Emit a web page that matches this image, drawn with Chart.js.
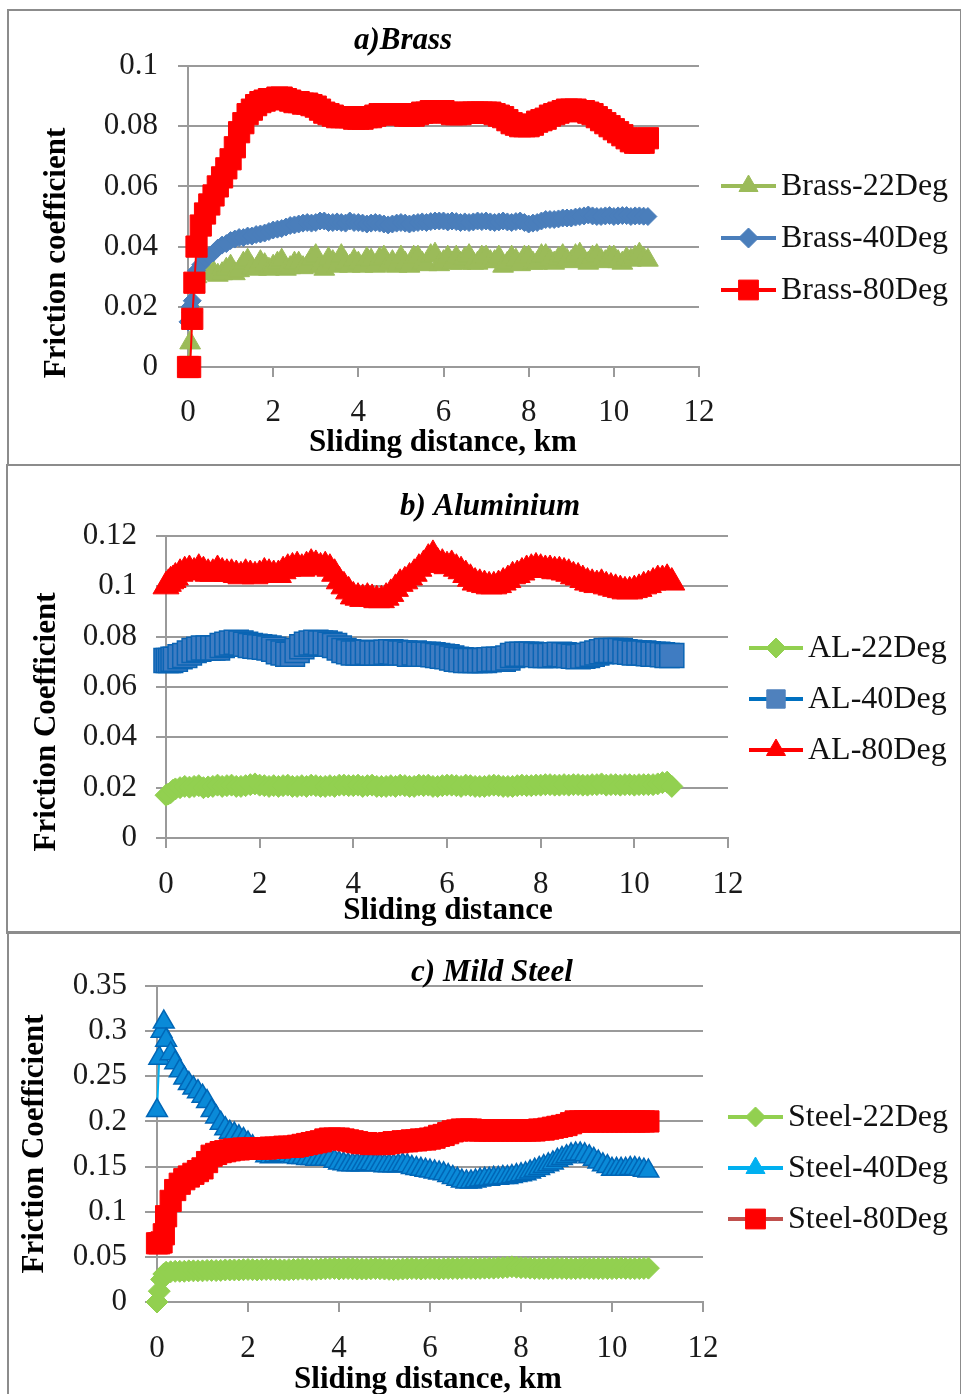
<!DOCTYPE html>
<html>
<head>
<meta charset="utf-8">
<script src="https://cdn.jsdelivr.net/npm/chart.js@4.4.0/dist/chart.umd.min.js"></script>
<style>
  html, body { margin: 0; padding: 0; background: #fff; }
  body { width: 961px; height: 1394px; position: relative; overflow: hidden; }
  .box { position: absolute; border: 2px solid #8c8c8c; box-sizing: border-box; }
  canvas { position: absolute; }
</style>
</head>
<body>
<div class="box" style="left:7px;top:9px;width:955px;height:457px"></div>
<div class="box" style="left:6px;top:464px;width:956px;height:470px"></div>
<div class="box" style="left:7px;top:931px;width:955px;height:470px"></div>
<canvas id="brass" width="948" height="452" style="left:10px;top:11px"></canvas>
<canvas id="alu" width="949" height="463" style="left:9px;top:467px"></canvas>
<canvas id="steel" width="948" height="460" style="left:10px;top:934px"></canvas>
<script>
// sliding distance, km (shared by all series)
const distance = [0, 0.05, 0.1, 0.15, 0.2, 0.3,
  0.4, 0.5, 0.6, 0.7, 0.8, 0.9, 1.0, 1.1, 1.2, 1.3,
  1.4, 1.5, 1.6, 1.7, 1.8, 1.9, 2.0, 2.1, 2.2, 2.3,
  2.4, 2.5, 2.6, 2.7, 2.8, 2.9, 3.0, 3.1, 3.2, 3.3,
  3.4, 3.5, 3.6, 3.7, 3.8, 3.9, 4.0, 4.1, 4.2, 4.3,
  4.4, 4.5, 4.6, 4.7, 4.8, 4.9, 5.0, 5.1, 5.2, 5.3,
  5.4, 5.5, 5.6, 5.7, 5.8, 5.9, 6.0, 6.1, 6.2, 6.3,
  6.4, 6.5, 6.6, 6.7, 6.8, 6.9, 7.0, 7.1, 7.2, 7.3,
  7.4, 7.5, 7.6, 7.7, 7.8, 7.9, 8.0, 8.1, 8.2, 8.3,
  8.4, 8.5, 8.6, 8.7, 8.8, 8.9, 9.0, 9.1, 9.2, 9.3,
  9.4, 9.5, 9.6, 9.7, 9.8, 9.9, 10.0, 10.1, 10.2, 10.3,
  10.4, 10.5, 10.6, 10.7, 10.8];

// a) Brass
const brass22 = [0, 0.008, 0.02, 0.027, 0.03, 0.031,
  0.032, 0.031, 0.0315, 0.0305, 0.031, 0.0325, 0.0335, 0.031, 0.032, 0.0345,
  0.0355, 0.033, 0.0325, 0.035, 0.034, 0.0325, 0.0335, 0.0345, 0.0355, 0.0325,
  0.033, 0.0345, 0.0345, 0.033, 0.0335, 0.036, 0.037, 0.0335, 0.0325, 0.036,
  0.035, 0.0335, 0.037, 0.0345, 0.0335, 0.0355, 0.0345, 0.0335, 0.036, 0.0355,
  0.0335, 0.036, 0.0365, 0.034, 0.035, 0.0335, 0.0365, 0.0345, 0.0335, 0.0365,
  0.0365, 0.0345, 0.034, 0.037, 0.0375, 0.034, 0.035, 0.0365, 0.0345, 0.0365,
  0.0345, 0.036, 0.037, 0.0345, 0.0345, 0.0365, 0.0365, 0.035, 0.035, 0.0365,
  0.0335, 0.0345, 0.0365, 0.0355, 0.034, 0.0365, 0.0365, 0.0345, 0.0345, 0.037,
  0.037, 0.0355, 0.0345, 0.036, 0.037, 0.0355, 0.035, 0.037, 0.0375, 0.0355,
  0.0345, 0.0365, 0.037, 0.0355, 0.035, 0.0365, 0.0365, 0.035, 0.0345, 0.036,
  0.0355, 0.0365, 0.0375, 0.036, 0.0355];
const brass40 = [0.015, 0.02, 0.022, 0.028, 0.032, 0.034,
  0.036, 0.037, 0.038, 0.0395, 0.0405, 0.041, 0.042, 0.0425, 0.043, 0.043,
  0.0435, 0.0435, 0.044, 0.0442, 0.0445, 0.045, 0.0455, 0.0458, 0.046, 0.0465,
  0.047, 0.0472, 0.0475, 0.0478, 0.048, 0.0478, 0.048, 0.0485, 0.0485, 0.048,
  0.048, 0.0482, 0.048, 0.0478, 0.0485, 0.048, 0.048, 0.0478, 0.0475, 0.0478,
  0.048, 0.0478, 0.0475, 0.0472, 0.0475, 0.0478, 0.048, 0.0478, 0.0475, 0.0478,
  0.048, 0.0482, 0.048, 0.0483, 0.0485, 0.0485, 0.0485, 0.0482, 0.0485, 0.0483,
  0.048, 0.0482, 0.048, 0.0482, 0.0485, 0.0483, 0.0485, 0.0482, 0.048, 0.0482,
  0.0485, 0.0482, 0.048, 0.0483, 0.0485, 0.048, 0.0475, 0.0478, 0.048, 0.0485,
  0.049, 0.049, 0.049, 0.0492, 0.0495, 0.0495, 0.0495, 0.0498, 0.05, 0.0502,
  0.0505, 0.0502, 0.05, 0.05, 0.0502, 0.0503, 0.05, 0.0502, 0.0503, 0.0503,
  0.05, 0.0502, 0.0502, 0.0501, 0.05];
const brass80 = [0, 0, 0.016, 0.028, 0.04, 0.047,
  0.051, 0.054, 0.057, 0.06, 0.063, 0.066, 0.069, 0.073, 0.078, 0.081,
  0.084, 0.0855, 0.087, 0.088, 0.0885, 0.089, 0.089, 0.0895, 0.0895, 0.089,
  0.0885, 0.088, 0.088, 0.0875, 0.0875, 0.087, 0.0865, 0.0855, 0.0845, 0.084,
  0.0835, 0.083, 0.083, 0.083, 0.083, 0.0825, 0.0825, 0.0825, 0.083, 0.083,
  0.0835, 0.084, 0.084, 0.084, 0.084, 0.084, 0.084, 0.0835, 0.0835, 0.0835,
  0.084, 0.0845, 0.0845, 0.085, 0.085, 0.085, 0.085, 0.0845, 0.084, 0.084,
  0.084, 0.0845, 0.0845, 0.0845, 0.0845, 0.0845, 0.0845, 0.0845, 0.084, 0.0835,
  0.083, 0.082, 0.081, 0.0805, 0.08, 0.08, 0.08, 0.0805, 0.0815, 0.082,
  0.0825, 0.0835, 0.084, 0.0845, 0.085, 0.0855, 0.0855, 0.0855, 0.085, 0.085,
  0.0845, 0.084, 0.083, 0.082, 0.081, 0.08, 0.079, 0.078, 0.077, 0.076,
  0.075, 0.0745, 0.0745, 0.0745, 0.076];

// b) Aluminium
const al22 = [0.017, 0.0175, 0.018, 0.019, 0.0195, 0.02,
  0.0205, 0.0202, 0.0205, 0.0208, 0.02, 0.0203, 0.0205, 0.021, 0.0205, 0.0208,
  0.021, 0.0205, 0.0205, 0.0208, 0.0212, 0.0215, 0.021, 0.0208, 0.0205, 0.0208,
  0.0205, 0.0208, 0.021, 0.0205, 0.0205, 0.0208, 0.0205, 0.021, 0.0208, 0.0205,
  0.0205, 0.0208, 0.0205, 0.021, 0.021, 0.0208, 0.0208, 0.021, 0.0205, 0.0208,
  0.021, 0.0205, 0.0205, 0.0205, 0.0208, 0.0205, 0.021, 0.0208, 0.0205, 0.0205,
  0.021, 0.0208, 0.021, 0.0205, 0.0205, 0.0208, 0.021, 0.021, 0.0208, 0.0205,
  0.021, 0.0208, 0.0205, 0.0205, 0.0205, 0.0208, 0.021, 0.0208, 0.0205, 0.0205,
  0.0205, 0.0208, 0.021, 0.0208, 0.0208, 0.021, 0.021, 0.0212, 0.0212, 0.021,
  0.021, 0.0212, 0.021, 0.0212, 0.0212, 0.021, 0.021, 0.0212, 0.0212, 0.0215,
  0.021, 0.0212, 0.0212, 0.021, 0.0212, 0.0212, 0.021, 0.0212, 0.0212, 0.0212,
  0.0212, 0.0215, 0.022, 0.0222, 0.0205];
const al40 = [0.0705, 0.0705, 0.0705, 0.071, 0.071, 0.072,
  0.0725, 0.0735, 0.0745, 0.075, 0.0755, 0.0755, 0.0755, 0.0755, 0.0765, 0.077,
  0.0775, 0.0778, 0.0775, 0.077, 0.0765, 0.0762, 0.076, 0.0758, 0.0755, 0.075,
  0.074, 0.0735, 0.073, 0.073, 0.0745, 0.076, 0.077, 0.0775, 0.0778, 0.0775,
  0.0775, 0.077, 0.0765, 0.0755, 0.0745, 0.074, 0.0735, 0.0735, 0.0735, 0.0738,
  0.0735, 0.0735, 0.0735, 0.0738, 0.074, 0.0738, 0.0735, 0.0735, 0.073, 0.0735,
  0.073, 0.073, 0.073, 0.0728, 0.0725, 0.0722, 0.072, 0.0715, 0.071, 0.0708,
  0.0705, 0.0705, 0.0705, 0.0705, 0.0705, 0.0708, 0.071, 0.071, 0.071, 0.0715,
  0.0725, 0.073, 0.073, 0.073, 0.073, 0.0728, 0.0725, 0.0725, 0.0725, 0.0728,
  0.073, 0.0728, 0.0725, 0.0722, 0.072, 0.0722, 0.0725, 0.073, 0.0735, 0.074,
  0.0745, 0.0745, 0.0745, 0.0745, 0.074, 0.0738, 0.0735, 0.0735, 0.0735, 0.0732,
  0.073, 0.073, 0.0728, 0.0725, 0.0725];
const al80 = [0.1, 0.101, 0.102, 0.1025, 0.1035, 0.105,
  0.106, 0.1065, 0.1055, 0.107, 0.106, 0.105, 0.105, 0.1065, 0.1055, 0.105,
  0.105, 0.1045, 0.104, 0.105, 0.1045, 0.104, 0.1045, 0.1055, 0.105, 0.1045,
  0.1045, 0.106, 0.107, 0.1075, 0.108, 0.107, 0.108, 0.109, 0.1085, 0.1075,
  0.108, 0.107, 0.105, 0.102, 0.1, 0.098, 0.096, 0.0955, 0.095, 0.0955,
  0.095, 0.0945, 0.0945, 0.0955, 0.097, 0.099, 0.101, 0.102, 0.1035, 0.105,
  0.107, 0.1085, 0.111, 0.1125, 0.1095, 0.109, 0.108, 0.1085, 0.107, 0.106,
  0.1045, 0.103, 0.1015, 0.101, 0.1005, 0.1, 0.1, 0.1005, 0.1015, 0.1025,
  0.104, 0.1045, 0.1055, 0.1065, 0.107, 0.1075, 0.107, 0.1065, 0.1065, 0.106,
  0.106, 0.1055, 0.105, 0.104, 0.1035, 0.1025, 0.1015, 0.101, 0.1005, 0.101,
  0.1, 0.0995, 0.099, 0.0985, 0.098, 0.098, 0.0985, 0.099, 0.1, 0.1005,
  0.1015, 0.1025, 0.1025, 0.103, 0.1015];

// c) Mild Steel
const steel22 = [0, 0.012, 0.025, 0.031, 0.033, 0.0335,
  0.034, 0.034, 0.034, 0.0345, 0.0345, 0.0345, 0.0345, 0.035, 0.035, 0.0348,
  0.035, 0.0355, 0.0355, 0.0355, 0.0355, 0.0358, 0.036, 0.0358, 0.0355, 0.0358,
  0.036, 0.036, 0.036, 0.0358, 0.0355, 0.0358, 0.036, 0.0362, 0.0365, 0.0362,
  0.036, 0.0362, 0.0365, 0.0368, 0.037, 0.0372, 0.0365, 0.0368, 0.037, 0.0368,
  0.0365, 0.0365, 0.0365, 0.0368, 0.037, 0.0368, 0.0365, 0.0362, 0.036, 0.0362,
  0.0365, 0.0368, 0.037, 0.0368, 0.0365, 0.0368, 0.037, 0.0368, 0.0365, 0.0368,
  0.037, 0.037, 0.037, 0.0372, 0.0375, 0.0372, 0.037, 0.0372, 0.0375, 0.0375,
  0.0375, 0.0378, 0.038, 0.0385, 0.039, 0.0385, 0.038, 0.0378, 0.0375, 0.0372,
  0.037, 0.037, 0.037, 0.0372, 0.0375, 0.0372, 0.037, 0.037, 0.037, 0.0372,
  0.0375, 0.0372, 0.037, 0.037, 0.037, 0.037, 0.037, 0.0372, 0.0375, 0.0372,
  0.037, 0.037, 0.037, 0.0372, 0.0375];
const steel40 = [0.212, 0.27, 0.3, 0.31, 0.29, 0.275,
  0.265, 0.256, 0.248, 0.242, 0.237, 0.233, 0.228, 0.222, 0.212, 0.205,
  0.198, 0.192, 0.188, 0.186, 0.183, 0.18, 0.176, 0.172, 0.168, 0.165,
  0.162, 0.161, 0.162, 0.163, 0.163, 0.162, 0.161, 0.16, 0.16, 0.159,
  0.159, 0.158, 0.158, 0.158, 0.158, 0.156, 0.154, 0.153, 0.152, 0.152,
  0.152, 0.152, 0.153, 0.153, 0.152, 0.152, 0.151, 0.151, 0.151, 0.151,
  0.152, 0.151, 0.149, 0.148, 0.147, 0.146, 0.145, 0.144, 0.143, 0.142,
  0.14, 0.138, 0.136, 0.134, 0.133, 0.133, 0.134, 0.135, 0.136, 0.136,
  0.137, 0.137, 0.138, 0.138, 0.139, 0.14, 0.141, 0.142, 0.144, 0.146,
  0.148, 0.15, 0.152, 0.154, 0.157, 0.159, 0.161, 0.163, 0.164, 0.164,
  0.163, 0.161, 0.158, 0.155, 0.152, 0.15, 0.147, 0.147, 0.147, 0.147,
  0.148, 0.148, 0.147, 0.146, 0.145];
const steel80 = [0.065, 0.065, 0.066, 0.075, 0.095, 0.112,
  0.124, 0.131, 0.136, 0.139, 0.142, 0.145, 0.148, 0.155, 0.162, 0.164,
  0.166, 0.167, 0.168, 0.169, 0.169, 0.17, 0.17, 0.17, 0.17, 0.17,
  0.17, 0.171, 0.171, 0.171, 0.172, 0.172, 0.172, 0.173, 0.174, 0.175,
  0.176, 0.177, 0.178, 0.18, 0.181, 0.181, 0.181, 0.18, 0.179, 0.178,
  0.177, 0.176, 0.176, 0.175, 0.175, 0.175, 0.175, 0.176, 0.177, 0.177,
  0.178, 0.178, 0.179, 0.179, 0.18, 0.18, 0.181, 0.182, 0.184, 0.185,
  0.187, 0.189, 0.19, 0.191, 0.191, 0.191, 0.19, 0.19, 0.19, 0.19,
  0.19, 0.19, 0.19, 0.19, 0.19, 0.19, 0.19, 0.19, 0.19, 0.19,
  0.191, 0.191, 0.192, 0.193, 0.194, 0.195, 0.196, 0.198, 0.2, 0.2,
  0.2, 0.2, 0.2, 0.2, 0.2, 0.2, 0.2, 0.2, 0.2, 0.2,
  0.2, 0.2, 0.2, 0.2, 0.2];

const SERIF = '"Liberation Serif", "Times New Roman", serif';
const GRID = '#9a9a9a';

// titles, axis titles and the Excel-style legend (line + marker + label)
const panelText = {
  id: 'panelText',
  afterDraw(chart, args, o) {
    const ctx = chart.ctx;
    ctx.save();
    ctx.fillStyle = '#000';
    ctx.textAlign = 'center';
    ctx.textBaseline = 'middle';
    ctx.font = 'italic bold 31px ' + SERIF;
    ctx.fillText(o.title, o.titleX, o.titleY);
    ctx.font = 'bold 31px ' + SERIF;
    ctx.fillText(o.xTitle, o.xTitleX, o.xTitleY);
    ctx.save();
    ctx.translate(o.yTitleX, o.yTitleY);
    ctx.rotate(-Math.PI / 2);
    ctx.fillText(o.yTitle, 0, 0);
    ctx.restore();

    chart.data.datasets.forEach((ds, i) => {
      const y = o.legendY[i];
      ctx.strokeStyle = ds.legendLine;
      ctx.lineWidth = 4;
      ctx.beginPath();
      ctx.moveTo(o.legendX, y);
      ctx.lineTo(o.legendX + o.legendLen, y);
      ctx.stroke();
      ctx.fillStyle = ds.legendFill;
      ctx.strokeStyle = ds.legendFill;
      ctx.lineWidth = 1;
      Chart.helpers.drawPoint(ctx, {
        pointStyle: ds.pointStyle, radius: ds.legendRadius, rotation: 0, borderWidth: 1
      }, o.legendX + o.legendLen / 2, y);
      ctx.fillStyle = '#111';
      ctx.textAlign = 'left';
      ctx.font = '32px ' + SERIF;
      ctx.fillText(ds.label, o.legendX + o.legendLen + 5, y + 1);
    });
    ctx.restore();
  }
};

function makeChart(id, cfg) {
  const datasets = cfg.series.map((s, i) => ({
    label: s.label,
    data: distance.map((d, j) => ({ x: d, y: s.values[j] })),
    borderColor: s.line,
    borderWidth: 2,
    pointStyle: s.marker,
    pointRadius: s.radius,
    pointBackgroundColor: s.fill,
    pointBorderColor: s.edge,
    pointBorderWidth: s.edgeWidth,
    legendRadius: s.legendRadius,
    legendLine: s.legendLine || s.line,
    legendFill: s.legendFill || s.fill,
    order: cfg.series.length - i,
    clip: false
  }));
  const tickFont = { family: SERIF, size: 31 };
  return new Chart(document.getElementById(id), {
    type: 'line',
    data: { datasets },
    plugins: [panelText],
    options: {
      responsive: false,
      animation: false,
      devicePixelRatio: 1,
      layout: { padding: { left: 0, right: cfg.padR, top: cfg.padT, bottom: 0 } },
      plugins: {
        legend: { display: false },
        tooltip: { enabled: false },
        panelText: cfg.text
      },
      scales: {
        x: {
          type: 'linear', min: 0, max: 12,
          ticks: { stepSize: 2, padding: cfg.xPad, color: '#1a1a1a', font: tickFont, maxRotation: 0 },
          grid: { drawOnChartArea: false, drawTicks: true, tickLength: 10, color: GRID, lineWidth: 2 },
          border: { display: true, color: GRID, width: 2 },
          afterFit: s => { s.height = cfg.xH; }
        },
        y: {
          min: 0, max: cfg.yMax,
          ticks: {
            stepSize: cfg.yStep, padding: cfg.yPad, color: '#1a1a1a', font: tickFont,
            callback: v => String(+v.toFixed(3))
          },
          grid: { tickLength: cfg.yTick, color: GRID, lineWidth: 2 },
          border: { display: true, color: GRID, width: 2 },
          afterFit: s => { s.width = cfg.yW; }
        }
      }
    }
  });
}

makeChart('brass', {
  yMax: 0.1, yStep: 0.02, yW: 178, xH: 96, padR: 259, padT: 55,
  xPad: 17, yPad: 20, yTick: 10,
  series: [
    { label: 'Brass-22Deg', values: brass22, marker: 'triangle', radius: 12, legendRadius: 11,
      fill: '#9bbb59', edge: '#9bbb59', edgeWidth: 1, line: '#9bbb59' },
    { label: 'Brass-40Deg', values: brass40, marker: 'rectRot', radius: 9, legendRadius: 10,
      fill: '#4a7ebb', edge: '#4a7ebb', edgeWidth: 1, line: '#4a7ebb' },
    { label: 'Brass-80Deg', values: brass80, marker: 'rect', radius: 15, legendRadius: 14,
      fill: '#ff0000', edge: '#ff0000', edgeWidth: 1, line: '#ff0000' }
  ],
  text: {
    title: 'a)Brass', titleX: 393, titleY: 30,
    xTitle: 'Sliding distance, km', xTitleX: 433, xTitleY: 432,
    yTitle: 'Friction coefficient', yTitleX: 47, yTitleY: 242,
    legendX: 711, legendLen: 55, legendY: [175, 227, 279]
  }
});

makeChart('alu', {
  yMax: 0.12, yStep: 0.02, yW: 157, xH: 92, padR: 230, padT: 69,
  xPad: 18, yPad: 19, yTick: 10,
  series: [
    { label: 'AL-22Deg', values: al22, marker: 'rectRot', radius: 11, legendRadius: 10,
      fill: '#92d050', edge: '#92d050', edgeWidth: 1, line: '#92d050' },
    { label: 'AL-40Deg', values: al40, marker: 'rect', radius: 17, legendRadius: 13,
      fill: '#3f7cc2', edge: '#0a64b4', edgeWidth: 1.5, line: '#0070c0', legendFill: '#4f81bd' },
    { label: 'AL-80Deg', values: al80, marker: 'triangle', radius: 15, legendRadius: 11,
      fill: '#ff0000', edge: '#ff0000', edgeWidth: 1, line: '#ff0000' }
  ],
  text: {
    title: 'b) Aluminium', titleX: 481, titleY: 40,
    xTitle: 'Sliding distance', xTitleX: 439, xTitleY: 444,
    yTitle: 'Friction Coefficient', yTitleX: 38, yTitleY: 255,
    legendX: 740, legendLen: 54, legendY: [181, 232, 283]
  }
});

makeChart('steel', {
  yMax: 0.35, yStep: 0.05, yW: 147, xH: 92, padR: 255, padT: 52,
  xPad: 18, yPad: 18, yTick: 12,
  series: [
    { label: 'Steel-22Deg', values: steel22, marker: 'rectRot', radius: 11, legendRadius: 10,
      fill: '#92d050', edge: '#92d050', edgeWidth: 1, line: '#92d050' },
    { label: 'Steel-40Deg', values: steel40, marker: 'triangle', radius: 12, legendRadius: 11,
      fill: '#0a8ad8', edge: '#0066b6', edgeWidth: 1.5, line: '#00b0f0', legendFill: '#00b0f0' },
    { label: 'Steel-80Deg', values: steel80, marker: 'rect', radius: 15, legendRadius: 14,
      fill: '#ff0000', edge: '#ff0000', edgeWidth: 1, line: '#ff0000', legendLine: '#c0504d' }
  ],
  text: {
    title: 'c) Mild Steel', titleX: 482, titleY: 39,
    xTitle: 'Sliding distance, km', xTitleX: 418, xTitleY: 446,
    yTitle: 'Friction Coefficient', yTitleX: 25, yTitleY: 210,
    legendX: 718, legendLen: 55, legendY: [183, 234, 285]
  }
});
</script>
</body>
</html>
